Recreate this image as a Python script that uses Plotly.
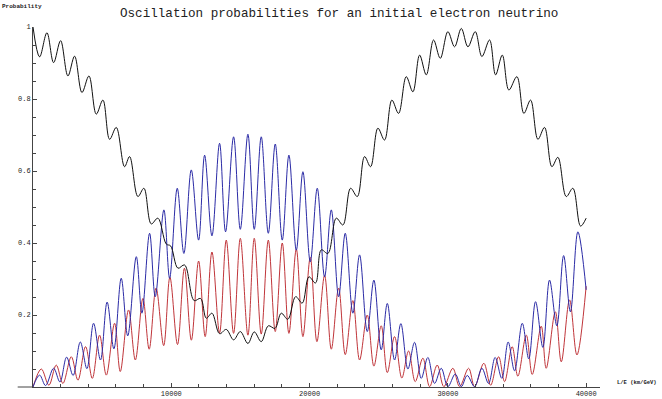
import plotly.graph_objects as go

# Extrema (local peaks / troughs), L/E in km/GeV
black_x = [0, 477, 1007, 1490, 1996, 2525, 3008, 3540, 4045, 4575, 5055, 5540, 6020, 6620, 6985,
           7585, 8020, 8550, 9030, 9640, 9950, 10480, 10960, 11650, 12120, 12530, 12940, 13490,
           13975, 14505, 14990, 15540, 16000, 16505, 17015, 17500, 17950, 18430, 18990, 19470,
           19950, 20430, 20845, 21325, 21930, 22410, 22965, 23450, 23975, 24410, 24940, 25420,
           25950, 26435, 26990, 27470, 27955, 28440, 28965, 29450, 30000, 30485, 30970, 31450,
           31980, 32460, 33015, 33450, 33935, 34410, 34990, 35495, 35980, 36510, 36990, 37520,
           37955, 38560, 39040, 39595, 40000]
black_y = [1.0, 0.917, 0.984, 0.901, 0.962, 0.864, 0.919, 0.818, 0.864, 0.758, 0.797, 0.688, 0.721,
           0.612, 0.640, 0.529, 0.552, 0.453, 0.469, 0.397, 0.392, 0.330, 0.339, 0.240, 0.246,
           0.191, 0.205, 0.148, 0.160, 0.131, 0.154, 0.121, 0.153, 0.126, 0.170, 0.163, 0.205,
           0.188, 0.251, 0.233, 0.306, 0.289, 0.381, 0.371, 0.469, 0.450, 0.552, 0.529, 0.640,
           0.612, 0.719, 0.686, 0.797, 0.760, 0.862, 0.820, 0.922, 0.867, 0.964, 0.913, 0.987,
           0.945, 0.996, 0.945, 0.987, 0.918, 0.964, 0.867, 0.922, 0.825, 0.862, 0.760, 0.797,
           0.688, 0.721, 0.612, 0.638, 0.529, 0.552, 0.447, 0.469]

blue_x = [0, 477, 910, 1490, 1950, 2430, 2900, 3420, 3900, 4380, 4880, 5360, 5850, 6380, 6850,
          7470, 7875, 8430, 8840, 9465, 9880, 10430, 10910, 11445, 11975, 12410, 12940, 13490,
          13925, 14505, 14990, 15540, 16000, 16505, 17015, 17517, 18025, 18505, 19040, 19517,
          20050, 20555, 21085, 21570, 22100, 22580, 23130, 23615, 24170, 24650, 25180, 25620,
          26145, 26600, 27110, 27590, 28075, 28550, 29040, 29520, 30000, 30535, 30970, 31400,
          31930, 32460, 32940, 33420, 33900, 34360, 34820, 35380, 35850, 36340, 36870, 37350,
          37880, 38370, 38860, 39400, 40000]
blue_y = [0.0, 0.033, 0.004, 0.052, 0.014, 0.083, 0.032, 0.125, 0.051, 0.177, 0.075, 0.236, 0.106,
          0.302, 0.142, 0.362, 0.205, 0.427, 0.251, 0.492, 0.302, 0.552, 0.371, 0.603, 0.408,
          0.644, 0.420, 0.677, 0.431, 0.695, 0.438, 0.702, 0.438, 0.695, 0.427, 0.675, 0.408,
          0.644, 0.380, 0.598, 0.348, 0.552, 0.306, 0.492, 0.251, 0.427, 0.205, 0.367, 0.154,
          0.297, 0.103, 0.232, 0.075, 0.176, 0.050, 0.124, 0.024, 0.082, 0.010, 0.052, 0.001,
          0.036, 0.001, 0.032, 0.001, 0.052, 0.010, 0.082, 0.024, 0.125, 0.045, 0.177, 0.078,
          0.237, 0.110, 0.297, 0.170, 0.365, 0.209, 0.431, 0.270]

red_x = [0, 600, 1150, 1680, 2160, 2770, 3250, 3800, 4290, 4815, 5300, 5900, 6310, 6910, 7400,
         7950, 8400, 8900, 9450, 9900, 10450, 10950, 11450, 11975, 12450, 12940, 13490, 13975,
         14505, 14990, 15540, 16000, 16505, 17015, 17517, 18025, 18505, 19040, 19517, 20050,
         20530, 21085, 21570, 22100, 22580, 23130, 23615, 24170, 24650, 25180, 25620, 26145,
         26670, 27160, 27640, 28190, 28680, 29230, 29710, 30360, 30845, 31500, 31930, 32600,
         33090, 33670, 34100, 34650, 35060, 35670, 36100, 36750, 37110, 37770, 38200, 38800,
         39330, 40000]
red_y = [0.0, 0.050, 0.005, 0.061, 0.010, 0.084, 0.019, 0.112, 0.024, 0.144, 0.033, 0.177, 0.043,
         0.214, 0.075, 0.246, 0.105, 0.275, 0.115, 0.305, 0.118, 0.330, 0.130, 0.350, 0.140,
         0.375, 0.150, 0.408, 0.149, 0.413, 0.144, 0.413, 0.147, 0.408, 0.154, 0.400, 0.149,
         0.383, 0.140, 0.360, 0.126, 0.310, 0.105, 0.275, 0.090, 0.240, 0.075, 0.200, 0.058,
         0.170, 0.040, 0.140, 0.025, 0.100, 0.015, 0.080, 0.001, 0.061, 0.001, 0.052, 0.001,
         0.052, 0.001, 0.066, 0.005, 0.084, 0.015, 0.112, 0.030, 0.144, 0.035, 0.169, 0.052,
         0.209, 0.070, 0.242, 0.089, 0.280]

x_tickvals = [10000, 20000, 30000, 40000]
x_ticktext = ["10000", "20000", "30000", "40000"]
y_tickvals = [0.2, 0.4, 0.6, 0.8, 1.0]
y_ticktext = ["0.2", "0.4", "0.6", "0.8", "1"]

title_text = "Oscillation probabilities for an initial electron neutrino"
y_label = "Probability"
x_label = "L/E (km/GeV)"

MONO = "Liberation Mono, Courier New, monospace"

fig = go.Figure()
for xs, ys, col in [(red_x, red_y, "#c0353a"), (blue_x, blue_y, "#2b2ba6"), (black_x, black_y, "#111111")]:
    fig.add_trace(go.Scatter(x=xs, y=ys, mode="lines",
                             line=dict(color=col, width=1, shape="spline", smoothing=1.0),
                             hoverinfo="skip", showlegend=False))

fig.update_layout(
    width=662, height=399,
    margin=dict(l=33, r=62, t=27, b=12, autoexpand=False),
    paper_bgcolor="white", plot_bgcolor="white",
    showlegend=False,
    xaxis=dict(range=[0, 41000], showgrid=False, zeroline=False, automargin=False,
               showline=True, linecolor="#444", linewidth=1,
               ticks="inside", ticklen=4, tickcolor="#444",
               tickvals=x_tickvals, ticktext=x_ticktext,
               tickfont=dict(family=MONO, size=7, color="#222"),
               minor=dict(dtick=2000, tick0=0, ticks="inside", ticklen=3, tickcolor="#444")),
    yaxis=dict(range=[0, 1.0], showgrid=False, zeroline=False, automargin=False,
               showline=True, linecolor="#444", linewidth=1,
               ticks="inside", ticklen=4, tickcolor="#444",
               tickvals=y_tickvals, ticktext=y_ticktext,
               tickfont=dict(family=MONO, size=7, color="#222"),
               minor=dict(dtick=0.05, tick0=0, ticks="inside", ticklen=3, tickcolor="#444")),
)

# x axis line extends a little to the left of the y axis
fig.add_shape(type="line", xref="paper", yref="paper", x0=-0.027, x1=0, y0=0, y1=0,
              line=dict(color="#444", width=1))

fig.add_annotation(text=title_text, xref="paper", yref="paper", x=0.54, y=1.036,
                   xanchor="center", yanchor="middle", showarrow=False,
                   font=dict(family=MONO, size=12.6, color="#222"))
fig.add_annotation(text="<b>" + y_label + "</b>", xref="paper", yref="paper", x=-0.058, y=1.058,
                   xanchor="left", yanchor="middle", showarrow=False,
                   font=dict(family=MONO, size=6, color="#222"))
fig.add_annotation(text="<b>" + x_label + "</b>", xref="paper", yref="paper", x=1.104, y=0.012,
                   xanchor="right", yanchor="middle", showarrow=False,
                   font=dict(family=MONO, size=5.5, color="#222"))

fig.write_html("out.html", config={"displayModeBar": False},
               post_script="document.body.style.margin='0px';document.body.style.overflow='hidden';")
